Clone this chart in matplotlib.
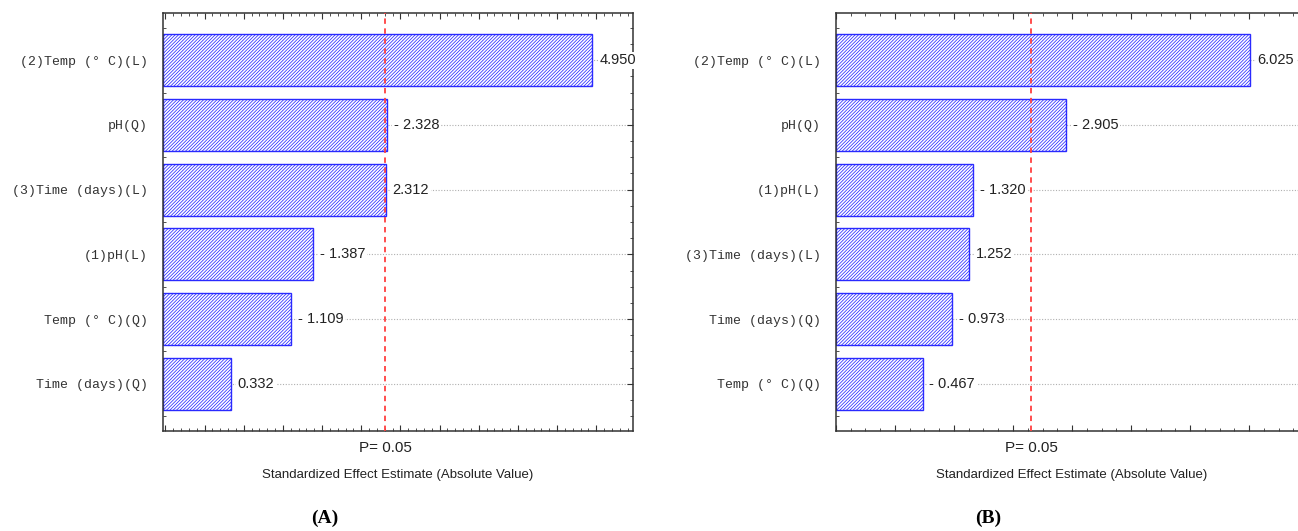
import numpy as np
import matplotlib.pyplot as plt
from matplotlib.ticker import MultipleLocator

# Pareto chart data, panel A
labels_a = ['(2)Temp (° C)(L)', 'pH(Q)', '(3)Time (days)(L)', '(1)pH(L)',
            'Temp (° C)(Q)', 'Time (days)(Q)']
effects_a = [4.950, -2.328, 2.312, -1.387, -1.109, 0.332]

# panel B
labels_b = ['(2)Temp (° C)(L)', 'pH(Q)', '(1)pH(L)', '(3)Time (days)(L)',
            'Time (days)(Q)', 'Temp (° C)(Q)']
effects_b = [6.025, -2.905, -1.320, 1.252, -0.973, -0.467]

p_crit = 2.306
panel_tags = ['(A)', '(B)']

W, H = 1298, 531
plt.rcParams['hatch.linewidth'] = 0.55

fig = plt.figure(figsize=(W / 100, H / 100), dpi=100)


def fmt(v):
    return f'- {abs(v):.3f}' if v < 0 else f'{v:.3f}'


def pareto(ax, labels, effects, xlim, major, minor):
    y = np.arange(len(labels))
    vals = np.abs(effects)
    x0 = xlim[0]
    for yy in y:
        ax.axhline(yy, color='#b0b0b0', lw=0.8, ls=(0, (1, 1.5)), zorder=1)
    # bars run from the left edge of the scale out to |effect|
    ax.barh(y, vals - x0, left=x0, height=0.8, color='white', edgecolor='#2a2aff',
            hatch='//////////', lw=1.0, zorder=2)
    ax.axvline(p_crit, color='#ff4040', lw=1.3, ls=(0, (3, 2.5)), zorder=3)
    for yy, v, e in zip(y, vals, effects):
        ax.annotate(fmt(e), (v, yy), xytext=(5, 0), textcoords='offset points',
                    va='center', ha='left', fontsize=10.5, family='Liberation Sans',
                    color='#222222', zorder=4, annotation_clip=False,
                    bbox=dict(boxstyle='square,pad=0.1', fc='white', ec='none'))
    ax.set_xlim(*xlim)
    ax.set_ylim(len(labels) - 0.27, -0.73)
    ax.set_yticks(y)
    ax.set_yticklabels(labels, family='Liberation Mono', fontsize=9.5, color='#333333')
    ax.yaxis.set_minor_locator(MultipleLocator(0.25))
    ax.xaxis.set_major_locator(MultipleLocator(major))
    ax.xaxis.set_minor_locator(MultipleLocator(minor))
    ax.tick_params(axis='both', which='both', direction='in', top=True, right=True,
                   colors='#333333')
    ax.tick_params(axis='x', which='major', length=4, labelbottom=False)
    ax.tick_params(axis='x', which='minor', length=2)
    ax.tick_params(axis='y', which='major', length=4, pad=11)
    ax.tick_params(axis='y', which='minor', length=2)
    for s in ax.spines.values():
        s.set_color('#333333')
        s.set_linewidth(1.1)
    ax.text(p_crit, -0.025, 'P= 0.05', transform=ax.get_xaxis_transform(),
            ha='center', va='top', fontsize=11, family='Liberation Sans', color='#222222')
    ax.set_xlabel('Standardized Effect Estimate (Absolute Value)', fontsize=9.5,
                  family='Liberation Sans', color='#222222', labelpad=24)


ax_a = fig.add_axes([163 / W, 1 - 431 / H, 470 / W, 418 / H])
pareto(ax_a, labels_a, effects_a, (-0.53, 5.47), 0.5, 0.1)

ax_b = fig.add_axes([836 / W, 1 - 431 / H, 472 / W, 418 / H])
pareto(ax_b, labels_b, effects_b, (-1.0, 7.0), 1.0, 0.25)

fig.text(325 / W, 1 - 518 / H, panel_tags[0], ha='center', va='center',
         fontsize=14, family='Liberation Serif', weight='bold')
fig.text(988 / W, 1 - 518 / H, panel_tags[1], ha='center', va='center',
         fontsize=14, family='Liberation Serif', weight='bold')

fig.savefig('out.png', dpi=100)
